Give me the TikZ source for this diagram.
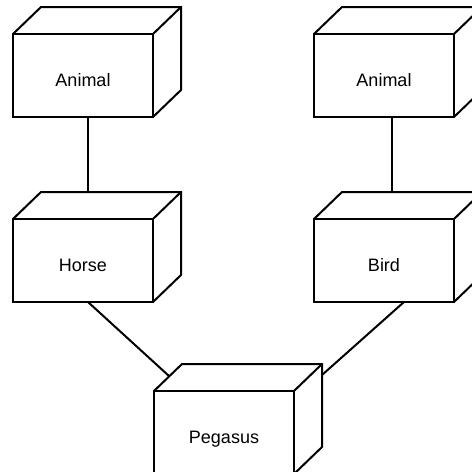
\documentclass[tikz,border=0pt]{standalone}
\usepackage{fontspec}
\setmainfont{Liberation Sans}
\usetikzlibrary{calc}

% Depth of the box sides
\def\dx{28pt}
\def\dy{27pt}

\tikzset{
  unit/.style={draw, line width=2pt, outer sep=0pt,
    minimum width=140pt, minimum height=83pt,
    text height=21pt, text depth=0pt,
    font=\fontsize{18}{21}\selectfont},
  link/.style={line width=2pt},
}

% Top and right faces of a box
\newcommand\unitdepth[1]{%
  \draw[line width=2pt, line join=miter]
    (#1.north west) -- ++(\dx,\dy) -- ($(#1.north east)+(\dx,\dy)$)
    -- ($(#1.south east)+(\dx,\dy)$) -- (#1.south east);
  \draw[line width=2pt] (#1.north east) -- ++(\dx,\dy);
}

\begin{document}
\begin{tikzpicture}

\useasboundingbox (0,0) rectangle (472pt,-472pt);

% Boxes
\node[unit] (animalL) at (83pt,-75.5pt) {Animal};
\node[unit] (animalR) at (384pt,-75.5pt) {Animal};
\node[unit] (horse) at (83pt,-260.5pt) {Horse};
\node[unit] (bird) at (384pt,-260.5pt) {Bird};
\node[unit] (pegasus) at (224pt,-432.5pt) {Pegasus};

\unitdepth{animalL}
\unitdepth{animalR}
\unitdepth{horse}
\unitdepth{bird}
\unitdepth{pegasus}

% Connectors
\draw[link] ([xshift=5pt]animalL.south) -- ([xshift=5pt,yshift=\dy]horse.north);
\draw[link] ([xshift=8pt]animalR.south) -- ([xshift=8pt,yshift=\dy]bird.north);
\draw[link] ([xshift=5pt]horse.south) -- ([shift={(15pt,15pt)}]pegasus.north west);
\draw[link] ([xshift=20pt]bird.south) -- ([shift={(\dx,16pt)}]pegasus.north east);

\end{tikzpicture}
\end{document}
